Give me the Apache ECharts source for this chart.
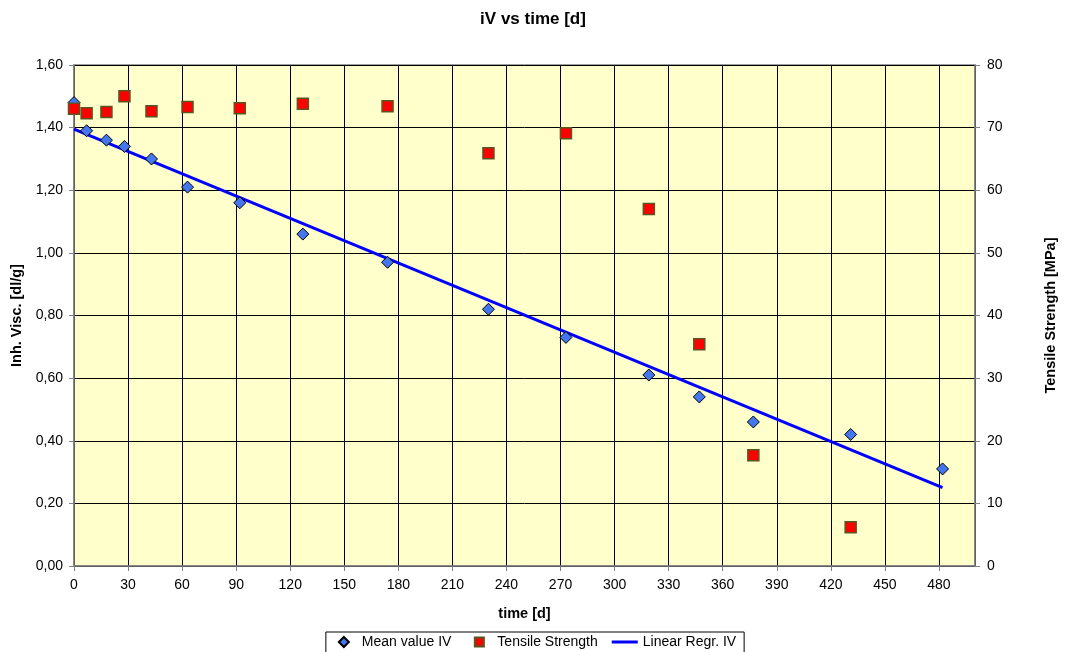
<!DOCTYPE html>
<html>
<head>
<meta charset="utf-8">
<script src="https://cdn.jsdelivr.net/npm/echarts@6/dist/echarts.min.js"></script>
<style>
html,body{margin:0;padding:0;background:#fff;}
#chart{width:1066px;height:652px;}
</style>
</head>
<body>
<div id="chart"></div>
<script>
// ---- data ----
const days = [0, 7, 18, 28, 43, 63, 92, 127, 174, 230, 273, 319, 347, 377, 431, 482];
const meanIV = [1.48, 1.39, 1.36, 1.34, 1.30, 1.21, 1.16, 1.06, 0.97, 0.82, 0.73, 0.61, 0.54, 0.46, 0.42, 0.31];
const tensile = [73.0, 72.3, 72.5, 75.0, 72.6, 73.3, 73.1, 73.8, 73.4, 65.9, 69.1, 57.0, 35.4, 17.7, 6.2, null];
const regDays = [0, 482];
const regIV = [1.395, 0.25];
const seriesNames = ['Mean value IV', 'Tensile Strength', 'Linear Regr. IV'];
const titleText = 'iV vs time [d]';
const xName = 'time [d]';
const yLeftName = 'Inh. Visc. [dl/g]';
const yRightName = 'Tensile Strength [MPa]';

const FONT = 'Liberation Sans, Arial, sans-serif';
const pairs = (xs, ys) => xs.map((x, i) => [x, ys[i]]).filter(p => p[1] !== null);

// legend icons: a 26x10 frame (moveTo corners) so shapes keep their proportions
const ICON_DIAMOND = 'path://M0,0 M26,10 M13,0 L18,5 L13,10 L8,5 Z';
const ICON_SQUARE = 'path://M0,0 M26,10 M8.5,0.5 L17.5,0.5 L17.5,9.5 L8.5,9.5 Z';
const ICON_LINE = 'path://M0,0 M26,10 M0,3.5 L26,3.5 L26,6.5 L0,6.5 Z';

const chart = echarts.init(document.getElementById('chart'), null, {renderer: 'canvas'});
chart.setOption({
  animation: false,
  backgroundColor: '#ffffff',
  textStyle: {fontFamily: FONT},
  title: {
    text: titleText, left: 'center', top: 11, padding: 0,
    textStyle: {fontFamily: FONT, fontSize: 17, fontWeight: 'bold', color: '#000'}
  },
  legend: {
    top: 632, left: 'center',
    data: [
      {name: seriesNames[0], icon: ICON_DIAMOND},
      {name: seriesNames[1], icon: ICON_SQUARE},
      {name: seriesNames[2], icon: ICON_LINE, itemStyle: {borderWidth: 0}}
    ],
    itemWidth: 26, itemHeight: 10, itemGap: 14,
    borderColor: '#000', borderWidth: 1, borderRadius: 0,
    padding: [3, 8, 12, 4],
    textStyle: {fontFamily: FONT, fontSize: 14, color: '#000'}
  },
  grid: {
    left: 74, right: 84, top: 65, bottom: 86,
    show: true, backgroundColor: '#ffffcc', borderColor: '#808080', borderWidth: 1.5
  },
  xAxis: {
    type: 'value', min: 0, max: 500, interval: 30,
    name: xName, nameLocation: 'middle', nameGap: 40,
    nameTextStyle: {fontFamily: FONT, fontSize: 14.5, fontWeight: 'bold', color: '#000'},
    axisLine: {show: true, onZero: false, lineStyle: {color: '#808080', width: 1.5}},
    axisTick: {show: true, length: 5, lineStyle: {color: '#808080'}},
    axisLabel: {fontFamily: FONT, fontSize: 14, color: '#000', margin: 12, showMaxLabel: false},
    splitLine: {show: true, lineStyle: {color: '#000', width: 1}}
  },
  yAxis: [
    {
      type: 'value', min: 0, max: 1.6, interval: 0.2, position: 'left',
      name: yLeftName, nameLocation: 'middle', nameGap: 49,
      nameTextStyle: {fontFamily: FONT, fontSize: 14.5, fontWeight: 'bold', color: '#000'},
      axisLine: {show: true, lineStyle: {color: '#808080', width: 1.5}},
      axisTick: {show: true, length: 5, lineStyle: {color: '#808080'}},
      axisLabel: {fontFamily: FONT, fontSize: 14, color: '#000', margin: 11,
        formatter: v => v.toFixed(2).replace('.', ',')},
      splitLine: {show: true, lineStyle: {color: '#000', width: 1}}
    },
    {
      type: 'value', min: 0, max: 80, interval: 10, position: 'right',
      name: yRightName, nameLocation: 'middle', nameGap: 68,
      nameTextStyle: {fontFamily: FONT, fontSize: 14.5, fontWeight: 'bold', color: '#000'},
      axisLine: {show: true, lineStyle: {color: '#808080', width: 1.5}},
      axisTick: {show: true, length: 5, lineStyle: {color: '#808080'}},
      axisLabel: {fontFamily: FONT, fontSize: 14, color: '#000', margin: 12},
      splitLine: {show: false}
    }
  ],
  series: [
    {
      name: seriesNames[2], type: 'line', yAxisIndex: 0,
      data: pairs(regDays, regIV), showSymbol: false, symbol: 'none',
      lineStyle: {color: '#0000ff', width: 3}, itemStyle: {color: '#0000ff'}, z: 2
    },
    {
      name: seriesNames[0], type: 'scatter', yAxisIndex: 0,
      data: pairs(days, meanIV), symbol: 'diamond', symbolSize: 12,
      itemStyle: {color: '#4477ee', borderColor: '#000', borderWidth: 1, opacity: 1}, z: 3
    },
    {
      name: seriesNames[1], type: 'scatter', yAxisIndex: 1,
      data: pairs(days, tensile), symbol: 'rect', symbolSize: 11,
      itemStyle: {color: '#ff0000', borderColor: '#5c5420', borderWidth: 1.5, opacity: 1}, z: 4
    }
  ]
});
</script>
</body>
</html>
